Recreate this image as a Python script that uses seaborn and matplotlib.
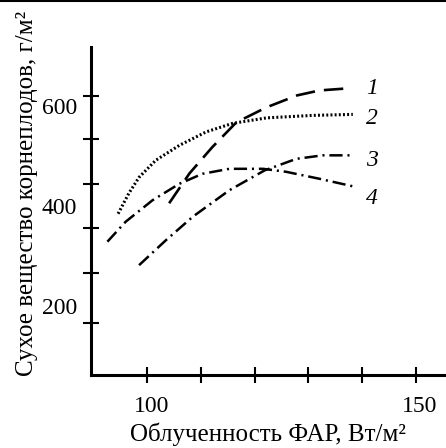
import numpy as np
import pandas as pd
import matplotlib
matplotlib.use("Agg")
import matplotlib.pyplot as plt
import matplotlib.transforms as mtransforms
from matplotlib.lines import Line2D
import seaborn as sns

# Data
x1 = [104.1, 107.9, 112.1, 116.6, 122.2, 127.9, 132.1, 137.2]
y1 = [406, 466, 518, 568, 598, 622, 632, 636]
x2 = [94.6, 96.6, 98.5, 101.6, 106.0, 111.0, 115.9, 122.2, 130.8, 138.3]
y2 = [385, 426, 458, 492, 522, 549, 566, 577, 582, 584]
x3 = [98.5, 103.5, 108.5, 115.3, 121.9, 127.8, 132.7, 138.3]
y3 = [282, 332, 379, 432, 472, 495, 502, 502]
x4 = [92.6, 96.0, 101.0, 106.0, 110.3, 115.3, 121.6, 125.9, 132.1, 138.3]
y4 = [329, 369, 412, 445, 465, 475, 475, 469, 455, 440]
curve_labels = ["1", "2", "3", "4"]
label_y = [636, 576, 492, 416]

x_major = [100, 150]
x_minor = [110, 120, 130, 140]
y_major = [200, 400, 600]
y_minor = [621, 535, 445, 357, 267, 167]

sns.set_theme(style="white")
plt.rcParams['font.family'] = ['Liberation Serif', 'DejaVu Serif']
plt.rcParams['lines.scale_dashes'] = False

fig = plt.figure(figsize=(4.46, 4.48), dpi=100)
ax = fig.add_axes([91/446, 1 - 375/448, 1 - 91/446, (375 - 47)/448])

styles = [(0, (14, 6.5)), (0, (1.4, 1.6)), (0, (9.5, 3.5, 1.5, 3.5)), (0, (9.5, 3.5, 1.5, 3.5))]
widths = [1.9, 2.2, 1.8, 1.8]
for xs, ys, ls, w in zip([x1, x2, x3, x4], [y1, y2, y3, y4], styles, widths):
    df = pd.DataFrame({"x": xs, "y": ys})
    sns.lineplot(data=df, x="x", y="y", ax=ax, color="black", lw=w,
                 linestyle=ls, sort=False)

for lab, ly in zip(curve_labels, label_y):
    ax.text(141.8, ly, lab, fontsize=17, style="italic", ha="center", va="center",
            color="black")

ax.set_xlim(89.55, 155.65)
ax.set_ylim(62, 719)

ax.set_xticks(x_major)
ax.set_xticks(x_minor, minor=True)
ax.set_yticks(y_major)
ax.set_yticks(y_minor, minor=True)
ax.tick_params(axis="x", which="both", direction="inout", length=12, width=1.5,
               color="black", bottom=True, labelsize=17, pad=9)
ax.tick_params(axis="y", which="major", length=0, labelsize=17, pad=10)
ax.tick_params(axis="y", which="minor", direction="inout", length=12, width=1.5,
               color="black", left=True)
offset = mtransforms.ScaledTranslation(4/100, 0, fig.dpi_scale_trans)
for t in ax.get_xticklabels():
    t.set_transform(t.get_transform() + offset)
for t in ax.get_xticklabels() + ax.get_yticklabels():
    t.set_color("black")

for s in ["top", "right"]:
    ax.spines[s].set_visible(False)
for s in ["left", "bottom"]:
    ax.spines[s].set_linewidth(2.2)
    ax.spines[s].set_color("black")

ax.set_xlabel("Облученность ФАР, Вт/м²", fontsize=18, color="black")
ax.set_ylabel("Сухое вещество корнеплодов, г/м²", fontsize=18, color="black")
ax.xaxis.set_label_coords(0.5, -0.145)
ax.yaxis.set_label_coords(-0.15, 0.555)

fig.add_artist(Line2D([0, 1], [1 - 1/448, 1 - 1/448], color="black", lw=1.5))

fig.savefig("out.png", dpi=100)
